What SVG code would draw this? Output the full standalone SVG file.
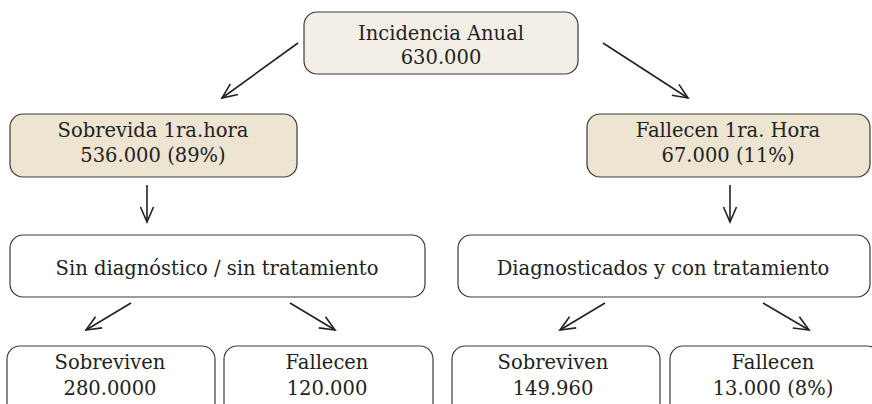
<svg xmlns="http://www.w3.org/2000/svg" width="872" height="404" viewBox="0 0 872 404">
<defs>
<style>
.box{stroke:#3a3a3a;stroke-width:1.2}
.top{fill:#f4efe6}
.l2{fill:#ede4d2}
.w{fill:#ffffff}
text{font-family:"DejaVu Serif","Liberation Serif",serif;font-size:19.5px;fill:#222;text-anchor:middle}
.c line{stroke:#222;stroke-width:1.6;marker-end:url(#ah)}
</style>
<marker id="ah" markerUnits="userSpaceOnUse" markerWidth="18" markerHeight="18" viewBox="0 0 18 18" refX="16" refY="9" orient="auto">
<path d="M1,2.5 L16,9 L1,15.5" fill="none" stroke="#222" stroke-width="1.6"/>
</marker>
</defs>
<rect width="872" height="404" fill="#ffffff"/>
<g id="incidencia">
<rect class="box top" x="304" y="12" width="274" height="62" rx="13"/>
<text x="441" y="40">Incidencia Anual</text>
<text x="441" y="64">630.000</text>
</g>
<g id="sobrevida">
<rect class="box l2" x="10" y="114" width="287" height="63" rx="13"/>
<text x="153" y="137">Sobrevida 1ra.hora</text>
<text x="153" y="162">536.000 (89%)</text>
</g>
<g id="fallecen1">
<rect class="box l2" x="587" y="114" width="283" height="63" rx="13"/>
<text x="728" y="137">Fallecen 1ra. Hora</text>
<text x="728" y="162">67.000 (11%)</text>
</g>
<g id="sindiag">
<rect class="box w" x="10" y="235" width="415" height="62" rx="13"/>
<text x="217" y="275">Sin diagnóstico / sin tratamiento</text>
</g>
<g id="diag">
<rect class="box w" x="458" y="235" width="412" height="62" rx="13"/>
<text x="663" y="275">Diagnosticados y con tratamiento</text>
</g>
<g id="sobreviven1">
<rect class="box w" x="7" y="346" width="208" height="80" rx="13"/>
<text x="110" y="369">Sobreviven</text>
<text x="110" y="395">280.0000</text>
</g>
<g id="fallecen2">
<rect class="box w" x="224" y="346" width="209" height="80" rx="13"/>
<text x="327" y="369">Fallecen</text>
<text x="327" y="395">120.000</text>
</g>
<g id="sobreviven2">
<rect class="box w" x="452" y="346" width="208" height="80" rx="13"/>
<text x="553" y="369">Sobreviven</text>
<text x="553" y="395">149.960</text>
</g>
<g id="fallecen3">
<rect class="box w" x="670" y="346" width="210" height="80" rx="13"/>
<text x="773" y="369">Fallecen</text>
<text x="773" y="395">13.000 (8%)</text>
</g>
<g id="connectors" class="c">
<line x1="298" y1="43" x2="222" y2="98"/>
<line x1="603" y1="43" x2="688" y2="98"/>
<line x1="147" y1="185" x2="147" y2="222"/>
<line x1="730" y1="185" x2="730" y2="222"/>
<line x1="131" y1="303" x2="86" y2="330"/>
<line x1="290" y1="303" x2="335" y2="330"/>
<line x1="605" y1="303" x2="560" y2="330"/>
<line x1="763" y1="303" x2="809" y2="330"/>
</g>
</svg>
